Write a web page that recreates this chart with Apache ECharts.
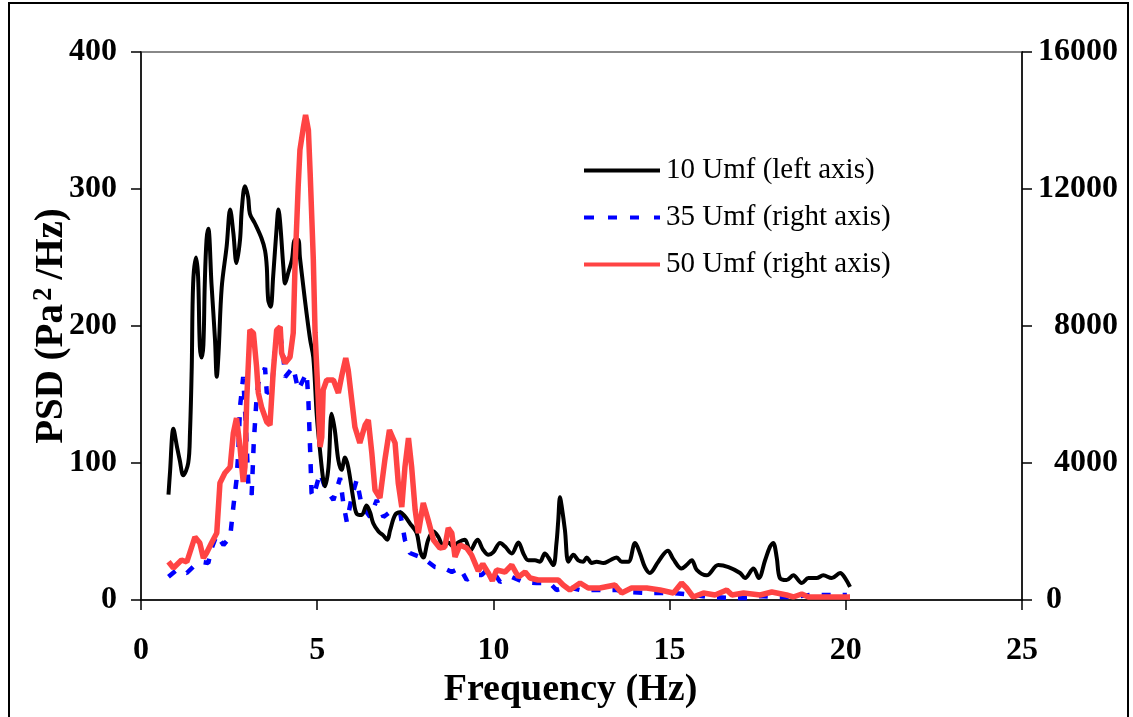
<!DOCTYPE html>
<html>
<head>
<meta charset="utf-8">
<script src="https://cdn.jsdelivr.net/npm/echarts@6/dist/echarts.min.js"></script>
<style>
html,body{margin:0;padding:0;background:#fff;}
#chart{width:1133px;height:717px;}
</style>
</head>
<body>
<div id="chart"></div>
<script>
// ---- data ----
const xTicks = [0, 5, 10, 15, 20, 25];
const leftTicks = [0, 100, 200, 300, 400];
const rightTicks = [0, 4000, 8000, 12000, 16000];
const seriesNames = ['10 Umf (left axis)', '35 Umf (right axis)', '50 Umf (right axis)'];

// 10 Umf (left axis)
const freq10 = [0.78,0.82,0.92,1.02,1.1,1.2,1.34,1.39,1.44,1.48,1.56,1.62,1.67,1.72,1.77,1.81,1.86,1.91,2.0,2.1,2.15,2.2,2.29,2.43,2.53,2.62,2.71,2.81,2.86,2.95,3.04,3.09,3.23,3.42,3.52,3.57,3.61,3.68,3.75,3.85,3.9,3.95,4.04,4.09,4.18,4.28,4.37,4.46,4.51,4.61,4.7,4.8,4.89,4.99,5.08,5.17,5.22,5.32,5.41,5.5,5.6,5.69,5.79,5.88,6.03,6.12,6.26,6.4,6.5,6.59,6.74,6.88,6.99,7.07,7.21,7.35,7.49,7.63,7.82,7.92,8.01,8.15,8.3,8.44,8.58,8.72,8.86,9.0,9.19,9.34,9.55,9.7,9.86,10.0,10.19,10.33,10.52,10.71,10.85,10.99,11.18,11.32,11.46,11.56,11.7,11.79,11.84,11.89,11.94,12.03,12.13,12.27,12.41,12.55,12.65,12.79,12.93,13.12,13.31,13.5,13.64,13.83,14.02,14.16,14.3,14.44,14.68,14.95,15.1,15.34,15.48,15.63,15.77,16.05,16.38,16.67,17.0,17.14,17.38,17.53,17.71,17.85,17.94,18.04,18.13,18.32,18.51,18.75,18.94,19.17,19.36,19.6,19.84,19.98,20.12];
const psd10 = [77,92,125,112,102,91,100,122,170,231,250,236,185,177,186,231,263,271,231,190,163,180,228,258,285,268,246,263,285,302,294,282,275,264,255,243,219,214,236,272,285,275,243,231,239,248,263,263,250,228,209,190,177,134,109,88,83,97,136,124,102,95,104,97,73,63,62,69,64,56,50,47,44,51,62,64,61,56,49,36,31,44,50,46,39,42,39,42,44,36,44,37,33,35,41.6,39,34,42,34,29,29,28,34,31,25.5,41.6,58,75,68,51,28,33,29,28,31,27,28,27,29,31,28,28,41.6,34,24,19.7,28,36,30,23,25.5,29,22,18,25.5,24,19.7,16,23,16,29,39,41.6,31,16,14.6,18,12.4,16,16,18,16,19.7,16,9.5];

// 35 Umf (right axis)
const freq35 = [0.78,1.01,1.3,1.53,1.72,1.91,2.0,2.15,2.34,2.53,2.62,2.71,2.76,2.81,2.9,2.97,3.05,3.14,3.2,3.28,3.33,3.52,3.57,3.71,3.8,3.92,4.04,4.09,4.32,4.46,4.7,4.75,4.8,4.84,4.89,5.08,5.22,5.46,5.65,5.74,5.84,5.98,6.12,6.26,6.5,6.69,6.88,7.07,7.35,7.49,7.63,7.92,8.15,8.34,8.58,8.82,9.05,9.24,9.43,9.67,9.81,10.0,10.19,10.52,10.85,11.23,11.6,11.79,12.08,12.46,12.93,13.5,13.78,14.35,15.11,15.67,16.1,16.9,17.24,17.57,18.04,18.5,18.98,19.46,20.03];
const psd35 = [680,876,788,1022,1110,1080,1500,1900,1606,1840,2716,3504,4292,5636,6512,5200,3300,3066,4600,5900,6336,6774,6044,6132,7300,7972,7096,6512,6804,6132,6628,5840,4380,3124,3008,3708,3300,2920,3562,2832,2278,3008,3504,2774,2424,2920,2424,2570,2570,1752,1372,1256,1110,964,934,818,934,584,730,730,876,818,526,672,526,496,496,292,380,292,292,292,234,204,204,146,88,58,58,117,88,88,146,146,146];

// 50 Umf (right axis)
const freq50 = [0.78,0.92,1.15,1.3,1.53,1.67,1.77,1.86,2.0,2.15,2.24,2.38,2.53,2.62,2.71,2.81,2.9,2.95,3.0,3.09,3.19,3.28,3.33,3.42,3.57,3.66,3.75,3.85,3.95,3.99,4.09,4.23,4.32,4.37,4.46,4.51,4.61,4.67,4.75,4.8,4.89,4.94,5.03,5.08,5.13,5.17,5.27,5.46,5.6,5.69,5.81,5.88,5.98,6.07,6.21,6.36,6.45,6.55,6.64,6.78,6.92,7.05,7.21,7.3,7.4,7.49,7.59,7.68,7.78,7.87,8.01,8.15,8.3,8.48,8.62,8.72,8.82,8.91,9.05,9.24,9.38,9.57,9.7,9.85,9.97,10.09,10.33,10.52,10.71,10.9,11.04,11.27,11.51,11.84,11.98,12.17,12.46,12.69,13.02,13.45,13.64,13.92,14.35,14.73,15.11,15.34,15.48,15.67,15.96,16.29,16.62,16.77,17.1,17.57,17.9,18.32,18.51,18.75,18.94,19.46,20.12];
const psd50 = [1118,934,1168,1110,1840,1664,1226,1372,1664,1956,3416,3708,3884,4876,5314,4468,3446,3884,5840,7884,7796,6804,6044,5636,5198,5110,6628,7884,7972,7212,6920,7096,7796,9724,12060,13140,13812,14162,13724,12468,9928,7796,5840,4468,4760,6132,6424,6424,6044,6512,7066,6716,5840,5052,4584,5110,5256,4292,3212,2978,4088,4964,4584,3416,2716,3884,4730,3884,2628,1956,2832,2336,1752,1518,1548,2102,1956,1256,1606,1518,1314,850,1050,800,560,876,818,1022,672,818,642,584,584,584,438,292,496,350,350,438,204,350,350,292,204,496,350,88,204,146,292,146,204,146,234,146,88,175,88,88,88];

function zip(xs, ys) { return xs.map((x, i) => [x, ys[i]]); }

const FONT = '"Liberation Serif", "Times New Roman", serif';
const chart = echarts.init(document.getElementById('chart'), null, {renderer: 'canvas'});

const option = {
  animation: false,
  backgroundColor: '#fff',
  graphic: [{
    type: 'rect', z: -1,
    shape: {x: 9, y: 3, width: 1119, height: 722},
    style: {fill: 'none', stroke: '#000', lineWidth: 2}
  }],
  grid: {left: 141, right: 111, top: 52, bottom: 117, show: true, borderColor: '#888', borderWidth: 2, backgroundColor: 'transparent'},
  legend: {
    orient: 'vertical', left: 579, top: 151,
    itemWidth: 76, itemHeight: 4, itemGap: 18,
    data: [
      {name: seriesNames[0], icon: 'rect'},
      {name: seriesNames[1], icon: 'path://M0,0h10v4h-10zM24,0h9v4h-9zM46,0h9v4h-9zM70,0h6v4h-6z'},
      {name: seriesNames[2], icon: 'rect'}
    ],
    lineStyle: {width: 0},
    textStyle: {fontFamily: FONT, fontSize: 29, color: '#000', padding: [0,0,0,1]}
  },
  xAxis: {
    type: 'value', min: xTicks[0], max: xTicks[xTicks.length-1], interval: 5,
    name: 'Frequency (Hz)', nameLocation: 'middle', nameGap: 71, nameMoveOverlap: false,
    nameTextStyle: {fontFamily: FONT, fontSize: 38, fontWeight: 'bold', color: '#000', padding: [0, 22, 0, 0]},
    axisLine: {show: true, onZero: false, lineStyle: {color: '#000', width: 1.5}},
    axisTick: {show: true, inside: false, length: 10, lineStyle: {color: '#000', width: 1.5}},
    axisLabel: {margin: 35, fontFamily: FONT, fontSize: 32, fontWeight: 'bold', color: '#000'},
    splitLine: {show: false}
  },
  yAxis: [{
    type: 'value', position: 'left', min: leftTicks[0], max: leftTicks[leftTicks.length-1], interval: 100,
    name: '{a|PSD (Pa}{s|2}{a|/Hz)}', nameLocation: 'middle', nameGap: 68, nameRotate: 90, nameMoveOverlap: false,
    nameTextStyle: {
      fontFamily: FONT, fontSize: 39, fontWeight: 'bold', color: '#000',
      rich: {
        a: {fontFamily: FONT, fontSize: 39, fontWeight: 'bold', color: '#000', lineHeight: 42},
        s: {fontFamily: FONT, fontSize: 27, fontWeight: 'bold', color: '#000', verticalAlign: 'top', lineHeight: 42, padding: [0, 8, 16, 3]}
      }
    },
    axisLine: {show: true, lineStyle: {color: '#000', width: 1.5}},
    axisTick: {show: true, length: 10, lineStyle: {color: '#000', width: 1.5}},
    axisLabel: {margin: 24, fontFamily: FONT, fontSize: 32, fontWeight: 'bold', color: '#000'},
    splitLine: {show: false}
  }, {
    type: 'value', position: 'right', min: rightTicks[0], max: rightTicks[rightTicks.length-1], interval: 4000,
    axisLine: {show: true, lineStyle: {color: '#000', width: 1.5}},
    axisTick: {show: true, length: 10, lineStyle: {color: '#000', width: 1.5}},
    axisLabel: {
      margin: 96, align: 'right', fontFamily: FONT, fontSize: 32, fontWeight: 'bold', color: '#000',
      formatter: v => v === 0 ? '{z|0}' : String(v),
      rich: {z: {fontFamily: FONT, fontSize: 32, fontWeight: 'bold', color: '#000', padding: [0, 56, 0, 0]}}
    },
    splitLine: {show: false}
  }],
  series: [{
    name: seriesNames[0], type: 'line', yAxisIndex: 0, data: zip(freq10, psd10),
    symbol: 'none', smooth: 0.35, z: 3,
    lineStyle: {color: '#000', width: 4},
    itemStyle: {color: '#000'}
  }, {
    name: seriesNames[1], type: 'line', yAxisIndex: 1, data: zip(freq35, psd35),
    symbol: 'none', smooth: false, z: 2,
    lineStyle: {color: '#0000ff', width: 4.5, type: [9, 12]},
    itemStyle: {color: '#0000ff'}
  }, {
    name: seriesNames[2], type: 'line', yAxisIndex: 1, data: zip(freq50, psd50),
    symbol: 'none', smooth: false, z: 4,
    lineStyle: {color: '#ff4444', width: 5.5},
    itemStyle: {color: '#ff4444'}
  }]
};
chart.setOption(option);
</script>
</body>
</html>
